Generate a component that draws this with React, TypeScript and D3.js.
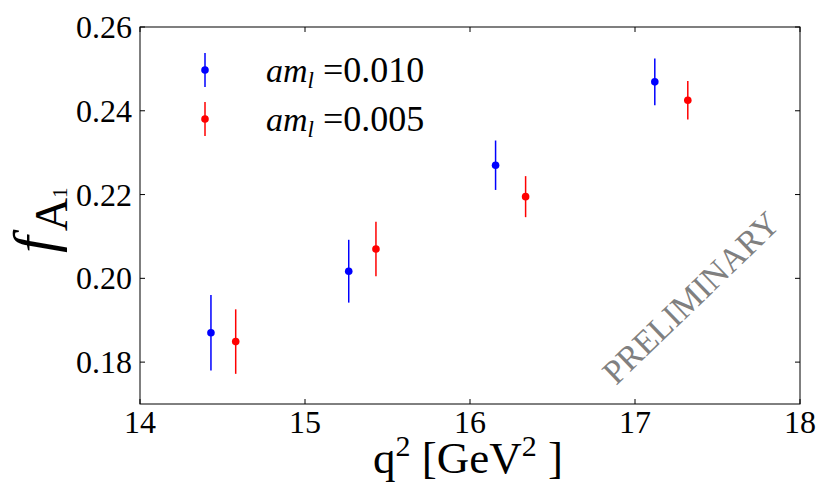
import { useMemo } from 'react'
import * as d3 from 'd3'

type Pt = { q2: number; value: number; err: number }

// am_l = 0.010 (blue)
const q2Heavy = [14.43, 15.265, 16.155, 17.12]
const fHeavy = [0.187, 0.2017, 0.227, 0.2469]
const errHeavy = [0.009, 0.0075, 0.0059, 0.0056]

// am_l = 0.005 (red)
const q2Light = [14.58, 15.43, 16.337, 17.32]
const fLight = [0.1849, 0.207, 0.2195, 0.2425]
const errLight = [0.0077, 0.0065, 0.0049, 0.0046]

const xTicks = [14, 15, 16, 17, 18]
const yTicks = [0.18, 0.2, 0.22, 0.24, 0.26]

const W = 830
const H = 498
const margin = { top: 27, right: 30, bottom: 94, left: 140 }
const FONT = "'Liberation Serif', 'Times New Roman', 'DejaVu Serif', serif"

const toPts = (xs: number[], vs: number[], es: number[]): Pt[] =>
  xs.map((q2, i) => ({ q2, value: vs[i], err: es[i] }))

export default function App() {
  const x = useMemo(() => d3.scaleLinear().domain([14, 18]).range([margin.left, W - margin.right]), [])
  const y = useMemo(() => d3.scaleLinear().domain([0.17, 0.26]).range([H - margin.bottom, margin.top]), [])

  const series = [
    { color: '#0000ff', label: '0.010', pts: toPts(q2Heavy, fHeavy, errHeavy) },
    { color: '#ff0000', label: '0.005', pts: toPts(q2Light, fLight, errLight) },
  ]

  const [x0, x1] = x.range()
  const [y0, y1] = y.range()
  const tick = 5

  return (
    <svg width={W} height={H} style={{ position: 'absolute', left: 0, top: 0, background: '#fff', fontFamily: FONT }}>
      {/* data */}
      {series.map(s => (
        <g key={s.label}>
          {s.pts.map((p, i) => (
            <g key={i}>
              <line x1={x(p.q2)} x2={x(p.q2)} y1={y(p.value - p.err)} y2={y(p.value + p.err)} stroke={s.color} strokeWidth={1.5} />
              <circle cx={x(p.q2)} cy={y(p.value)} r={3.8} fill={s.color} />
            </g>
          ))}
        </g>
      ))}

      {/* legend */}
      {series.map((s, i) => {
        const cy = 70 + i * 49
        return (
          <g key={`lg-${s.label}`}>
            <line x1={205} x2={205} y1={cy - 17} y2={cy + 17} stroke={s.color} strokeWidth={1.5} />
            <circle cx={205} cy={cy} r={3.8} fill={s.color} />
            <text y={cy + 12} fontSize={34} fill="#000">
              <tspan x={266} fontStyle="italic">am</tspan>
              <tspan fontStyle="italic" fontSize={23} dy={6}>l</tspan>
              <tspan x={323} dy={-6} fontSize={36}>={s.label}</tspan>
            </text>
          </g>
        )
      })}

      {/* watermark */}
      <text transform="translate(616,386) rotate(-44)" fontSize={34} fill="#808080">
        PRELIMINARY
      </text>

      {/* frame */}
      <rect x={x0} y={y1} width={x1 - x0} height={y0 - y1} fill="none" stroke="#000" strokeWidth={1} />

      {/* x ticks */}
      {xTicks.map(t => (
        <g key={`x-${t}`}>
          <line x1={x(t)} x2={x(t)} y1={y0} y2={y0 - tick} stroke="#000" />
          <line x1={x(t)} x2={x(t)} y1={y1} y2={y1 + tick} stroke="#000" />
          <text x={x(t)} y={y0 + 29} fontSize={32} textAnchor="middle">{t}</text>
        </g>
      ))}

      {/* y ticks */}
      {yTicks.map(t => (
        <g key={`y-${t}`}>
          <line x1={x0} x2={x0 + tick} y1={y(t)} y2={y(t)} stroke="#000" />
          <line x1={x1} x2={x1 - tick} y1={y(t)} y2={y(t)} stroke="#000" />
          <text x={132} y={y(t) + 11} fontSize={32} textAnchor="end">{d3.format('.2f')(t)}</text>
        </g>
      ))}

      {/* axis labels */}
      <text x={468} y={473} fontSize={45} textAnchor="middle">
        q<tspan fontSize={30} dy={-17}>2</tspan>
        <tspan dy={17}> [GeV</tspan>
        <tspan fontSize={30} dy={-17}>2</tspan>
        <tspan dy={17}> ]</tspan>
      </text>
      <text transform="translate(54,253) rotate(-90)" fontSize={60}>
        <tspan fontStyle="italic">f</tspan>
        <tspan fontSize={46} dy={13} dx={5}>A</tspan>
        <tspan fontSize={21} dy={0}>1</tspan>
      </text>
    </svg>
  )
}
